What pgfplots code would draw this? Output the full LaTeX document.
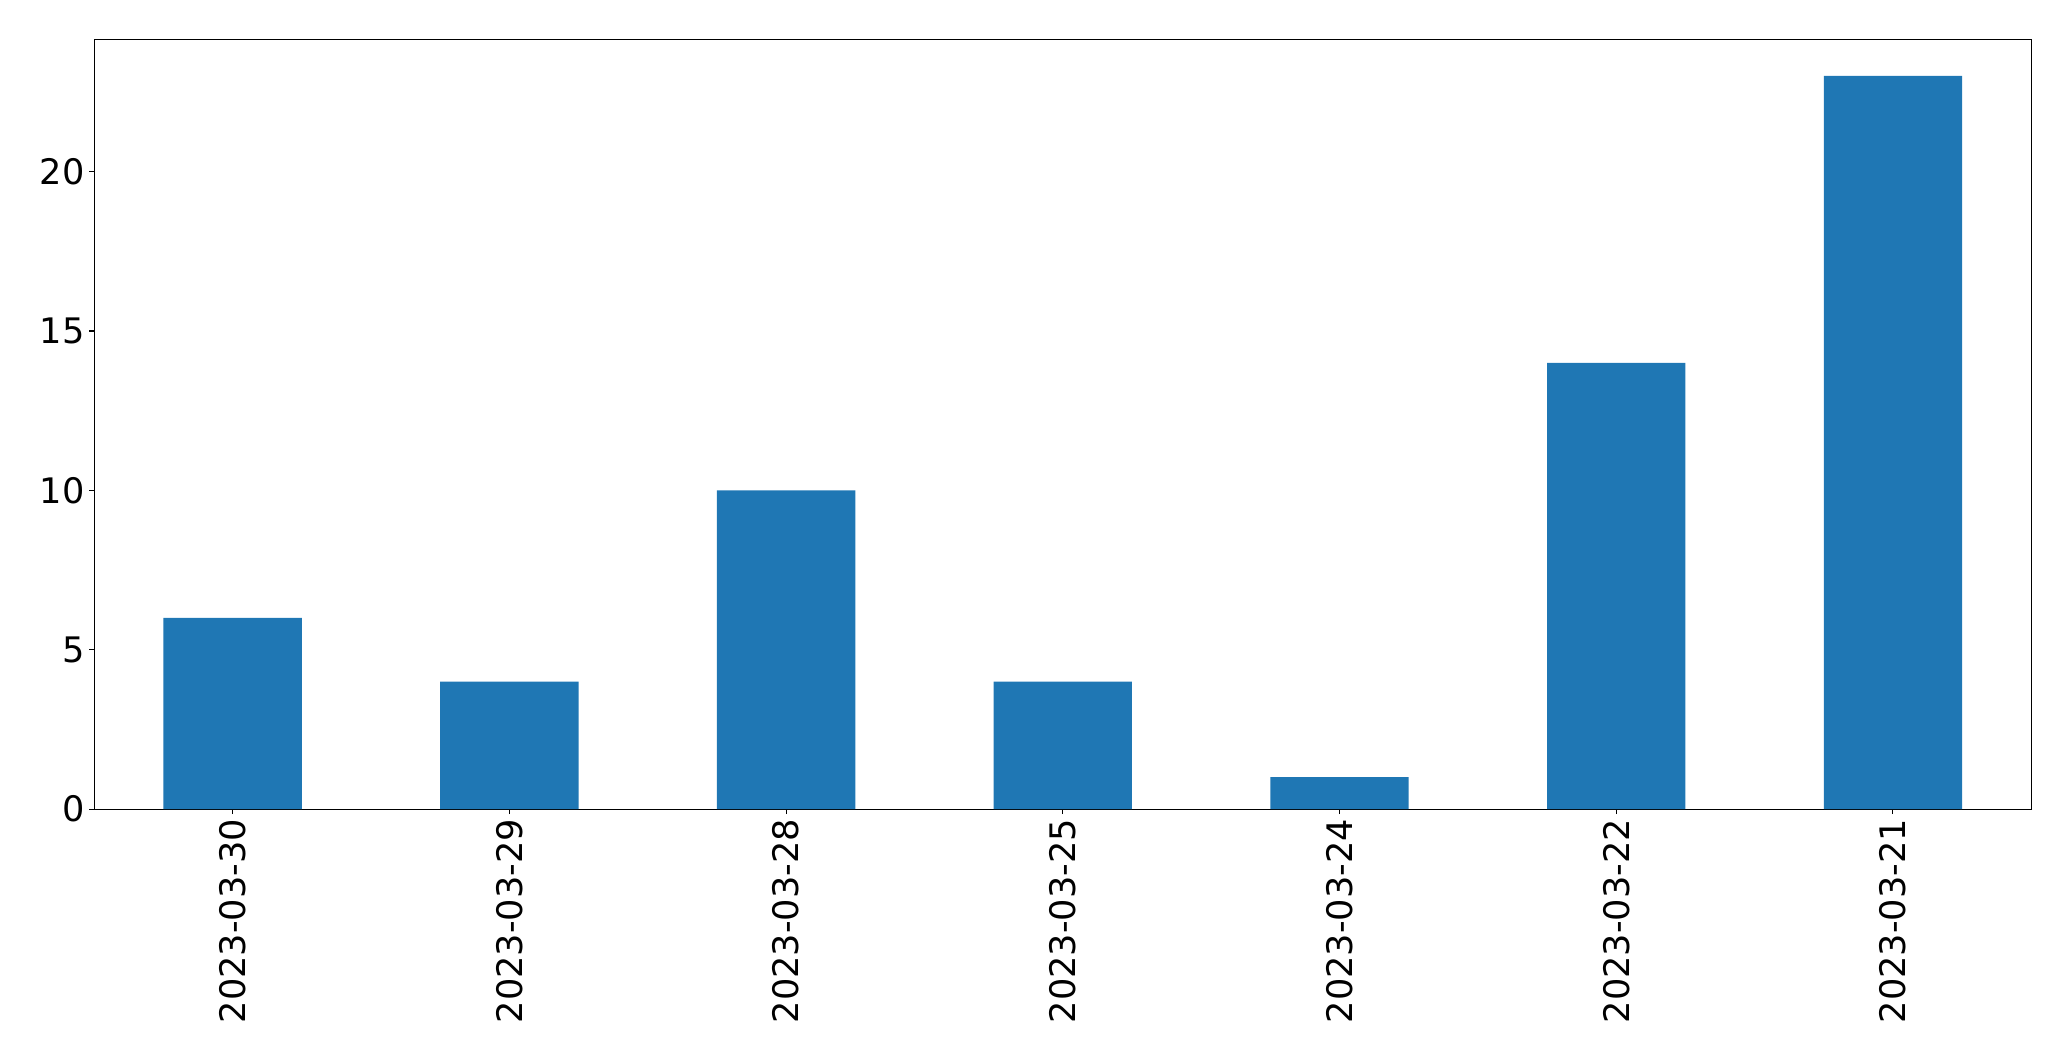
\documentclass[border=0pt]{standalone}
\usepackage{pgfplots}
\pgfplotsset{compat=1.18}
\usepackage{fontspec}
\setmainfont{DejaVu Sans}
\definecolor{tabblue}{HTML}{1F77B4}
\begin{document}
\begin{tikzpicture}
\begin{axis}[
  scale only axis,
  width=1394.6bp, height=554.2bp,
  xmin=-0.5, xmax=6.5, ymin=0, ymax=24.15,
  ybar, bar width=0.5, bar shift=0pt,
  xtick={0,1,2,3,4,5,6},
  xticklabels={2023-03-30,2023-03-29,2023-03-28,2023-03-25,2023-03-24,2023-03-22,2023-03-21},
  ytick={0,5,10,15,20},
  tick align=outside,
  major tick length=3.6bp,
  tick pos=left,
  axis line style={line width=0.8bp},
  every tick/.style={black, line width=0.8bp},
  /pgf/number format/assume math mode=true,
  tick label style={font=\fontsize{25.3bp}{30bp}\selectfont},
  xticklabel style={rotate=90, anchor=east, xshift=0bp},
  xtick style={draw=black},
  clip=false,
]
\addplot[fill=tabblue, draw=none] coordinates {(0,6) (1,4) (2,10) (3,4) (4,1) (5,14) (6,23)};
\end{axis}
\path ([shift={(-67.9bp,-181.4bp)}]current axis.south west) rectangle ([shift={(28.6bp,28.3bp)}]current axis.north east);
\end{tikzpicture}
\end{document}
